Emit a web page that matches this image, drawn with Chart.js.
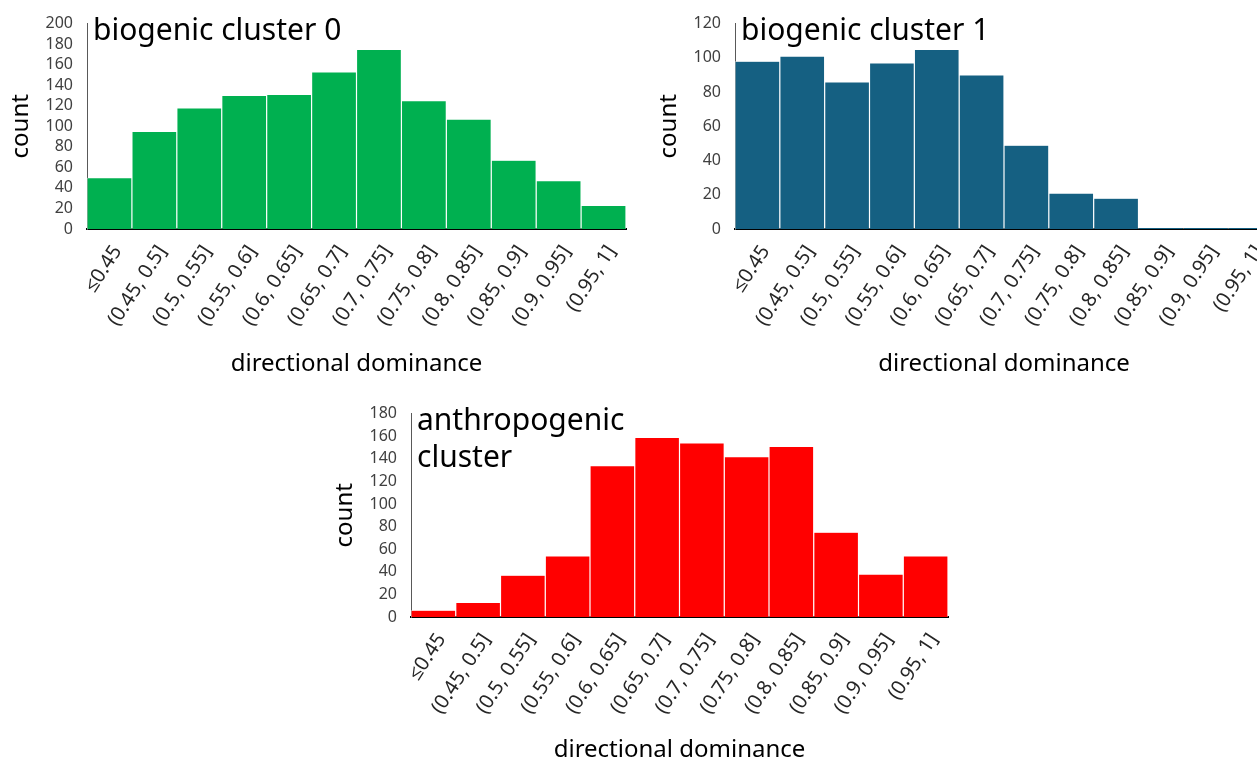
<!DOCTYPE html>
<html>
<head>
<meta charset="utf-8">
<script src="https://cdn.jsdelivr.net/npm/chart.js@4/dist/chart.umd.min.js"></script>
<style>
  html, body { margin: 0; padding: 0; background: #ffffff; }
  body { width: 1257px; height: 761px; overflow: hidden; position: relative; }
  canvas { position: absolute; }
</style>
</head>
<body>
<canvas id="bio0" width="640" height="380" style="left:0px;top:0px"></canvas>
<canvas id="bio1" width="639" height="380" style="left:648px;top:0px"></canvas>
<canvas id="anthro" width="638" height="376" style="left:324px;top:390px"></canvas>
<script>
// Histogram bins of directional dominance
const categories = ['≤0.45', '(0.45, 0.5]', '(0.5, 0.55]', '(0.55, 0.6]', '(0.6, 0.65]', '(0.65, 0.7]',
                    '(0.7, 0.75]', '(0.75, 0.8]', '(0.8, 0.85]', '(0.85, 0.9]', '(0.9, 0.95]', '(0.95, 1]'];

// Counts per bin for each cluster
const bio0Counts   = [50, 95, 118, 130, 131, 153, 175, 125, 107, 67, 47, 23];
const bio1Counts   = [98, 101, 86, 97, 105, 90, 49, 21, 18, 1, 1, 1];
const anthroCounts = [6, 13, 37, 54, 134, 159, 154, 142, 151, 75, 38, 54];

// Panel titles (one entry per line)
const bio0Title   = ['biogenic cluster 0'];
const bio1Title   = ['biogenic cluster 1'];
const anthroTitle = ['anthropogenic', 'cluster'];

const xAxisTitle = 'directional dominance';
const yAxisTitle = 'count';

const FONT = '"Noto Sans", "Open Sans", sans-serif';

// Writes the panel title inside the plot area, top-left corner
const cornerTitle = {
  id: 'cornerTitle',
  afterDatasetsDraw(chart, args, opts) {
    const { ctx, chartArea } = chart;
    ctx.save();
    ctx.font = opts.size + 'px ' + FONT;
    ctx.fillStyle = '#000000';
    ctx.textAlign = 'left';
    ctx.textBaseline = 'alphabetic';
    opts.lines.forEach((line, i) => {
      ctx.fillText(line, chartArea.left + opts.dx, chartArea.top + opts.dy + i * opts.gap);
    });
    ctx.restore();
  }
};

function histogram(id, counts, color, yMax, titleLines, xAxisHeight) {
  return new Chart(document.getElementById(id), {
    type: 'bar',
    data: {
      labels: categories,
      datasets: [{
        data: counts,
        backgroundColor: color,
        borderColor: 'rgba(255,255,255,0.85)',
        borderWidth: { left: 0.6, right: 0.6, top: 0.6, bottom: 0 },
        borderSkipped: false,
        inflateAmount: 0,
        barPercentage: 1.0,
        categoryPercentage: 1.0
      }]
    },
    options: {
      responsive: false,
      animation: false,
      devicePixelRatio: 1,
      layout: { padding: { left: 0, right: 14, top: 18, bottom: 0 } },
      plugins: {
        legend: { display: false },
        tooltip: { enabled: false },
        cornerTitle: { lines: titleLines, size: 30, dx: 6, dy: 16, gap: 37 }
      },
      scales: {
        x: {
          z: 1,
          grid: { display: false, drawTicks: false },
          border: { display: true, color: '#000000', width: 2 },
          ticks: {
            autoSkip: false,
            minRotation: 57,
            maxRotation: 57,
            padding: 12,
            labelOffset: 8,
            color: '#262626',
            font: { family: FONT, size: 20 }
          },
          title: {
            display: true,
            text: xAxisTitle,
            color: '#000000',
            font: { family: FONT, size: 24 },
            padding: { top: 0, bottom: 1 }
          },
          afterFit(scale) { scale.height = xAxisHeight; }
        },
        y: {
          z: 1,
          min: 0,
          max: yMax,
          grid: { display: false, drawTicks: false },
          border: { display: true, color: '#595959', width: 1 },
          ticks: {
            stepSize: 20,
            autoSkip: false,
            padding: 14,
            color: '#404040',
            font: { family: FONT, size: 16 }
          },
          title: {
            display: true,
            text: yAxisTitle,
            color: '#000000',
            font: { family: FONT, size: 24 },
            padding: { top: 7, bottom: 0 }
          },
          afterFit(scale) { scale.width = 87; }
        }
      }
    },
    plugins: [cornerTitle]
  });
}

histogram('bio0', bio0Counts, '#00B050', 200, bio0Title, 151);
histogram('bio1', bio1Counts, '#156082', 120, bio1Title, 151);
histogram('anthro', anthroCounts, '#FF0000', 180, anthroTitle, 149);
</script>
</body>
</html>
